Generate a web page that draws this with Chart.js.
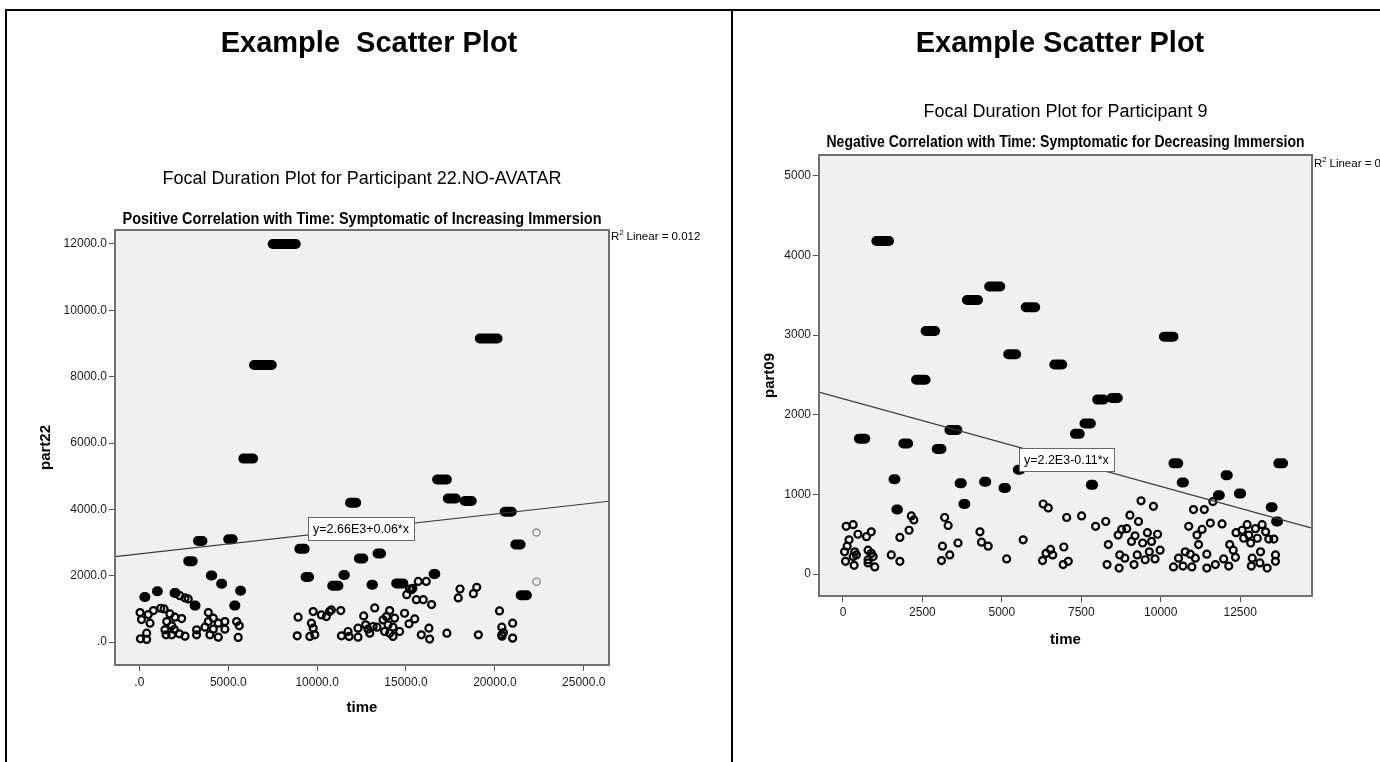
<!DOCTYPE html>
<html>
<head>
<meta charset="utf-8">
<title>Example Scatter Plot</title>
<script src="https://cdn.jsdelivr.net/npm/chart.js@4.4.1/dist/chart.umd.min.js"></script>
<style>
  html, body { margin: 0; padding: 0; background: #fff; }
  body { position: relative; width: 1380px; height: 762px; overflow: hidden; font-family: "Liberation Sans", Arial, sans-serif; }
  .rule { position: absolute; background: #000; }
  .heading { position: absolute; top: 26px; height: 32px; line-height: 32px; font-size: 29px; font-weight: bold; text-align: center; white-space: pre; }
  canvas { position: absolute; top: 0; }
</style>
</head>
<body>
<canvas id="left" width="732" height="762" style="left:0"></canvas>
<canvas id="right" width="647" height="762" style="left:733px"></canvas>
<div class="rule" style="left:5px;top:9px;width:1375px;height:2px"></div>
<div class="rule" style="left:5px;top:9px;width:2px;height:753px"></div>
<div class="rule" style="left:731px;top:9px;width:2px;height:753px"></div>
<div class="heading" style="left:7px;width:724px">Example  Scatter Plot</div>
<div class="heading" style="left:733px;width:654px">Example Scatter Plot</div>
<script>
// ---- participant 22 (left) ----
const xTicks22 = [0, 5000, 10000, 15000, 20000, 25000];
const xLabels22 = ['.0', '5000.0', '10000.0', '15000.0', '20000.0', '25000.0'];
const yTicks22 = [0, 2000, 4000, 6000, 8000, 10000, 12000];
const yLabels22 = ['.0', '2000.0', '4000.0', '6000.0', '8000.0', '10000.0', '12000.0'];

// single fixations (hollow rings)
const time22 = [40, 120, 60, 410, 410, 600, 500, 790, 1200, 1390, 1720, 2000, 2380, 1540, 1820, 1440, 1500, 1820, 2250, 2570,
  2280, 2570, 2750, 3220, 3220, 3690, 3880, 3880, 4160, 4440, 4810, 4160, 3970, 4440, 4810, 5470, 5620, 5560, 1970,
  8930, 8880, 9590, 9680, 9780, 9870, 9780, 10240, 10520, 10700, 10800, 11330, 11370, 11740, 11800, 12300, 12300, 12620,
  12730, 12860, 12960, 13150, 13240, 13370, 13710, 13900, 14080, 13990, 13800, 14080, 14270, 14360, 14270, 14640, 14920,
  15170, 15490, 15860, 16290, 16330, 17300, 15040, 15200, 15320, 15580, 15690, 15970, 16140, 16440, 15390,
  17940, 18040, 18790, 18980, 19070, 20260, 20390, 20390, 20480, 21000, 21000, 20400];
const part22 = [890, 680, 100, 80, 270, 570, 830, 950, 1020, 1000, 850, 750, 710, 620, 490, 370, 220, 220, 250, 180,
  1400, 1330, 1300, 370, 220, 450, 620, 890, 720, 570, 620, 390, 220, 150, 390, 620, 490, 140, 380,
  750, 190, 170, 570, 420, 220, 920, 820, 770, 920, 970, 950, 190, 320, 170, 420, 150, 790,
  520, 390, 270, 470, 1030, 450, 670, 770, 950, 520, 320, 270, 170, 720, 450, 320, 870,
  550, 700, 220, 420, 90, 270, 1430, 1600, 1580, 1280, 1830, 1280, 1830, 1130, 1620,
  1330, 1600, 1460, 1650, 220, 940, 450, 220, 290, 570, 120, 180];
// the two grey (outlying) cases
const timeGrey22 = [22340, 22340];
const partGrey22 = [3300, 1820];
// runs of repeated durations (drawn as solid capsules)
const runStart22 = [5850, 6450, 7500, 19150, 16750, 17350, 18300, 11850, 20550, 3300, 5000, 21150, 9000, 13400, 12350, 2750,
  9350, 10850, 21450, 14450, 4020, 11480, 16550, 13060, 4600, 280, 990, 1980, 5670, 5340, 3110];
const runEnd22 = [6400, 7450, 8800, 20150, 17300, 17800, 18700, 12200, 20950, 3550, 5250, 21450, 9300, 13600, 12600, 3000,
  9550, 11200, 21800, 14850, 4100, 11560, 16650, 13140, 4660, 340, 1040, 2040, 5720, 5400, 3160];
const runValue22 = [5530, 8350, 12000, 9150, 4900, 4330, 4250, 4200, 3930, 3050, 3100, 2940, 2810, 2670, 2520, 2440,
  1960, 1700, 1410, 1770, 2010, 2020, 2050, 1730, 1760, 1360, 1530, 1480, 1550, 1100, 1100];
const intercept22 = 2660, slope22 = 0.06;

// ---- participant 9 (right) ----
const xTicks09 = [0, 2500, 5000, 7500, 10000, 12500];
const xLabels09 = ['0', '2500', '5000', '7500', '10000', '12500'];
const yTicks09 = [0, 1000, 2000, 3000, 4000, 5000];
const yLabels09 = ['0', '1000', '2000', '3000', '4000', '5000'];

const time09 = [100, 320, 470, 190, 50, 130, 370, 420, 320, 80, 350, 740, 890, 790, 790, 790, 950, 1000, 890, 1520, 1790, 1790,
  2080, 2150, 2230, 3130, 3100, 3200, 3310, 3360, 3620, 4310, 4360, 4570, 5150, 5670, 6300, 6460, 6280, 6390, 6530, 6600,
  6950, 6930, 7090, 7040, 7510,
  7950, 8270, 8350, 8310, 8690, 8710, 8660, 8770, 8930, 8870, 9030, 9160, 9080, 9190, 9260, 9300, 9380, 9430, 9510, 9580,
  9640, 9710, 9770, 9820, 9900, 9980,
  10400, 10560, 10700, 10770, 10880, 10930, 10980, 11030, 11090, 11140, 11190, 11300, 11370, 11450, 11450, 11560, 11640,
  11720, 11930, 11980, 12140, 12170, 12280, 12350, 12370, 12560, 12610, 12720, 12770, 12830, 12880, 12850, 12980, 13040,
  13120, 13140, 13190, 13300, 13350, 13400, 13610, 13610, 13560];
const part09 = [600, 620, 500, 430, 280, 350, 280, 240, 220, 160, 110, 470, 530, 300, 180, 140, 220, 90, 260, 240, 160, 460,
  550, 730, 680, 350, 170, 710, 610, 240, 390, 530, 400, 350, 190, 430, 880, 830, 170, 260, 310, 240,
  340, 120, 160, 710, 730,
  600, 660, 370, 120, 75, 240, 490, 560, 570, 200, 740, 120, 410, 480, 240, 660, 920, 390, 180, 520,
  280, 410, 850, 190, 500, 300,
  90, 200, 100, 280, 600, 250, 90, 810, 200, 490, 370, 560, 810, 75, 250, 640, 910,
  120, 630, 190, 100, 370, 300, 210, 520, 550, 450, 620, 490, 390, 200, 100, 570, 450,
  140, 280, 620, 530, 75, 440, 240, 160, 440];
const runStart09 = [1050, 4600, 3900, 5750, 2600, 10100, 5200, 6650, 2300, 8000, 8450, 7600, 7300, 3350, 500, 1900, 2950,
  10400, 13700, 5500, 12040, 10660, 12460, 7800, 1590, 3670, 4440, 5050, 1680, 3790, 13460, 13630, 11800];
const runEnd09 = [1450, 4950, 4250, 6050, 2900, 10400, 5450, 6900, 2600, 8200, 8650, 7800, 7450, 3600, 700, 2050, 3100,
  10550, 13850, 5580, 12110, 10730, 12530, 7870, 1650, 3740, 4510, 5130, 1730, 3850, 13520, 13690, 11860];
const runValue09 = [4180, 3610, 3440, 3350, 3050, 2980, 2760, 2630, 2440, 2190, 2210, 1890, 1760, 1810, 1700, 1640, 1570,
  1390, 1390, 1310, 1240, 1150, 1010, 1120, 1190, 1140, 1160, 1080, 810, 880, 840, 660, 990];
const intercept09 = 2200, slope09 = -0.11;

// ---------------------------------------------------------------
const FONT = '"Liberation Sans", Arial, sans-serif';
Chart.defaults.font.family = FONT;
Chart.defaults.color = '#000';
Chart.defaults.animation = false;

function pairs(xs, ys) {
  return xs.map((x, i) => ({ x: x, y: ys[i] }));
}

// each run becomes its own sub path, broken by a null point
function runSegments(starts, ends, values) {
  const pts = [];
  starts.forEach((s, i) => {
    pts.push({ x: s, y: values[i] }, { x: ends[i], y: values[i] }, { x: ends[i], y: null });
  });
  return pts;
}

function fitLine(b0, b1, xmin, xmax) {
  return [{ x: xmin, y: b0 + b1 * xmin }, { x: xmax, y: b0 + b1 * xmax }];
}

// SPSS-ish frame, background, titles, fit label and R2 note
const spssPlugin = {
  id: 'spss',
  beforeDatasetsDraw(chart) {
    const a = chart.chartArea, ctx = chart.ctx;
    ctx.save();
    ctx.fillStyle = '#f0f0f0';
    ctx.fillRect(a.left, a.top, a.right - a.left, a.bottom - a.top);
    ctx.restore();
  },
  afterDatasetsDraw(chart, args, o) {
    const { ctx, chartArea: a, scales: { x, y } } = chart;
    ctx.save();

    // frame
    ctx.strokeStyle = '#707070';
    ctx.lineWidth = 2;
    ctx.strokeRect(a.left, a.top, a.right - a.left, a.bottom - a.top);

    // equation label
    ctx.font = '12.5px ' + FONT;
    const cx = x.getPixelForValue(o.eqX), cy = y.getPixelForValue(o.eqY);
    const w = ctx.measureText(o.eqText).width + 10, h = 23;
    ctx.fillStyle = '#fff';
    ctx.fillRect(cx - w / 2, cy - h / 2, w, h);
    ctx.strokeStyle = '#666';
    ctx.lineWidth = 1;
    ctx.strokeRect(Math.round(cx - w / 2) + 0.5, Math.round(cy - h / 2) + 0.5, Math.round(w), h);
    ctx.fillStyle = '#000';
    ctx.textAlign = 'center';
    ctx.textBaseline = 'middle';
    ctx.fillText(o.eqText, cx, cy + 1);

    // R2 note
    ctx.textAlign = 'left';
    ctx.textBaseline = 'alphabetic';
    const rx = a.right + 2, ry = a.top + o.r2Offset;
    ctx.font = '11.5px ' + FONT;
    ctx.fillText('R', rx, ry);
    const rw = ctx.measureText('R').width;
    ctx.font = '8px ' + FONT;
    ctx.fillText('2', rx + rw, ry - 5);
    ctx.font = '11.5px ' + FONT;
    ctx.fillText(' Linear = ' + o.r2Text, rx + rw + 4, ry);

    // titles, centred over the plot frame; the subtitle is squeezed like Arial Narrow
    const mx = (a.left + a.right) / 2;
    ctx.textAlign = 'center';
    ctx.textBaseline = 'middle';
    ctx.font = '18px ' + FONT;
    ctx.fillText(o.title, mx, a.top - o.titleGap);
    ctx.font = 'bold 16px ' + FONT;
    ctx.fillText(o.subtitle, mx, a.top - o.subtitleGap, o.subtitleWidth);
    ctx.restore();
  }
};

function makeChart(id, c) {
  const ticksFrom = vals => s => { s.ticks = vals.map(v => ({ value: v })); };
  return new Chart(document.getElementById(id), {
    type: 'scatter',
    data: {
      datasets: [
        {
          type: 'line',
          data: fitLine(c.b0, c.b1, c.xMin, c.xMax),
          borderColor: '#3a3a3a',
          borderWidth: 1.2,
          pointRadius: 0
        },
        {
          type: 'line',
          data: runSegments(c.runStart, c.runEnd, c.runValue),
          borderColor: '#000',
          borderWidth: 10,
          borderCapStyle: 'round',
          spanGaps: false,
          pointRadius: 0
        },
        {
          data: pairs(c.xs, c.ys),
          pointRadius: 3.5,
          borderWidth: 2.2,
          borderColor: '#000',
          backgroundColor: 'rgba(0,0,0,0)'
        },
        {
          data: pairs(c.greyX, c.greyY),
          pointRadius: 3.6,
          borderWidth: 1.3,
          borderColor: '#8a8a8a',
          backgroundColor: 'rgba(0,0,0,0)'
        }
      ]
    },
    options: {
      responsive: false,
      layout: { padding: c.padding },
      plugins: {
        legend: { display: false },
        tooltip: { enabled: false },
        spss: c.labels
      },
      scales: {
        x: {
          type: 'linear', min: c.xMin, max: c.xMax,
          afterBuildTicks: ticksFrom(c.xTicks),
          afterFit: s => { s.height = 60; },
          ticks: { callback: (v, i) => c.xLabels[i], font: { size: 12 }, color: '#1a1a1a', padding: c.xTickPad, maxRotation: 0, autoSkip: false },
          grid: { drawOnChartArea: false, tickLength: 6, color: '#555' },
          border: { display: false },
          title: { display: true, text: 'time', font: { size: 15, weight: 'bold' }, color: '#000', padding: { top: 0, bottom: c.xTitlePad } }
        },
        y: {
          type: 'linear', min: c.yMin, max: c.yMax,
          afterBuildTicks: ticksFrom(c.yTicks),
          afterFit: s => { s.width = c.yWidth; },
          ticks: { callback: (v, i) => c.yLabels[i], font: { size: 12 }, color: '#1a1a1a', padding: 2, autoSkip: false },
          grid: { drawOnChartArea: false, tickLength: 6, color: '#555' },
          border: { display: false },
          title: { display: true, text: c.yTitle, font: { size: 15, weight: 'bold' }, color: '#000', padding: { top: c.yTitlePad, bottom: 0 } }
        }
      }
    },
    plugins: [spssPlugin]
  });
}

makeChart('left', {
  xs: time22, ys: part22, greyX: timeGrey22, greyY: partGrey22,
  runStart: runStart22, runEnd: runEnd22, runValue: runValue22,
  b0: intercept22, b1: slope22,
  xMin: -1370, xMax: 26420, yMin: -690, yMax: 12420,
  xTicks: xTicks22, xLabels: xLabels22, yTicks: yTicks22, yLabels: yLabels22,
  yTitle: 'part22', yWidth: 85, yTitlePad: 7, xTickPad: 4, xTitlePad: 8,
  padding: { left: 30, right: 123, top: 230, bottom: 37 },
  labels: {
    title: 'Focal Duration Plot for Participant 22.NO-AVATAR',
    subtitle: 'Positive Correlation with Time: Symptomatic of Increasing Immersion',
    titleGap: 51, subtitleGap: 10, subtitleWidth: 479,
    eqText: 'y=2.66E3+0.06*x', eqX: 12470, eqY: 3410,
    r2Text: '0.012', r2Offset: 10
  }
});

makeChart('right', {
  xs: time09, ys: part09, greyX: [], greyY: [],
  runStart: runStart09, runEnd: runEnd09, runValue: runValue09,
  b0: intercept09, b1: slope09,
  xMin: -755, xMax: 14760, yMin: -275, yMax: 5260,
  xTicks: xTicks09, xLabels: xLabels09, yTicks: yTicks09, yLabels: yLabels09,
  yTitle: 'part09', yWidth: 76, yTitlePad: 18, xTickPad: 3, xTitlePad: 7,
  padding: { left: 10, right: 68, top: 155, bottom: 106 },
  labels: {
    title: 'Focal Duration Plot for Participant 9',
    subtitle: 'Negative Correlation with Time: Symptomatic for Decreasing Immersion',
    titleGap: 43, subtitleGap: 12, subtitleWidth: 478,
    eqText: 'y=2.2E3-0.11*x', eqX: 7030, eqY: 1435,
    r2Text: '0', r2Offset: 12
  }
});
</script>
</body>
</html>
